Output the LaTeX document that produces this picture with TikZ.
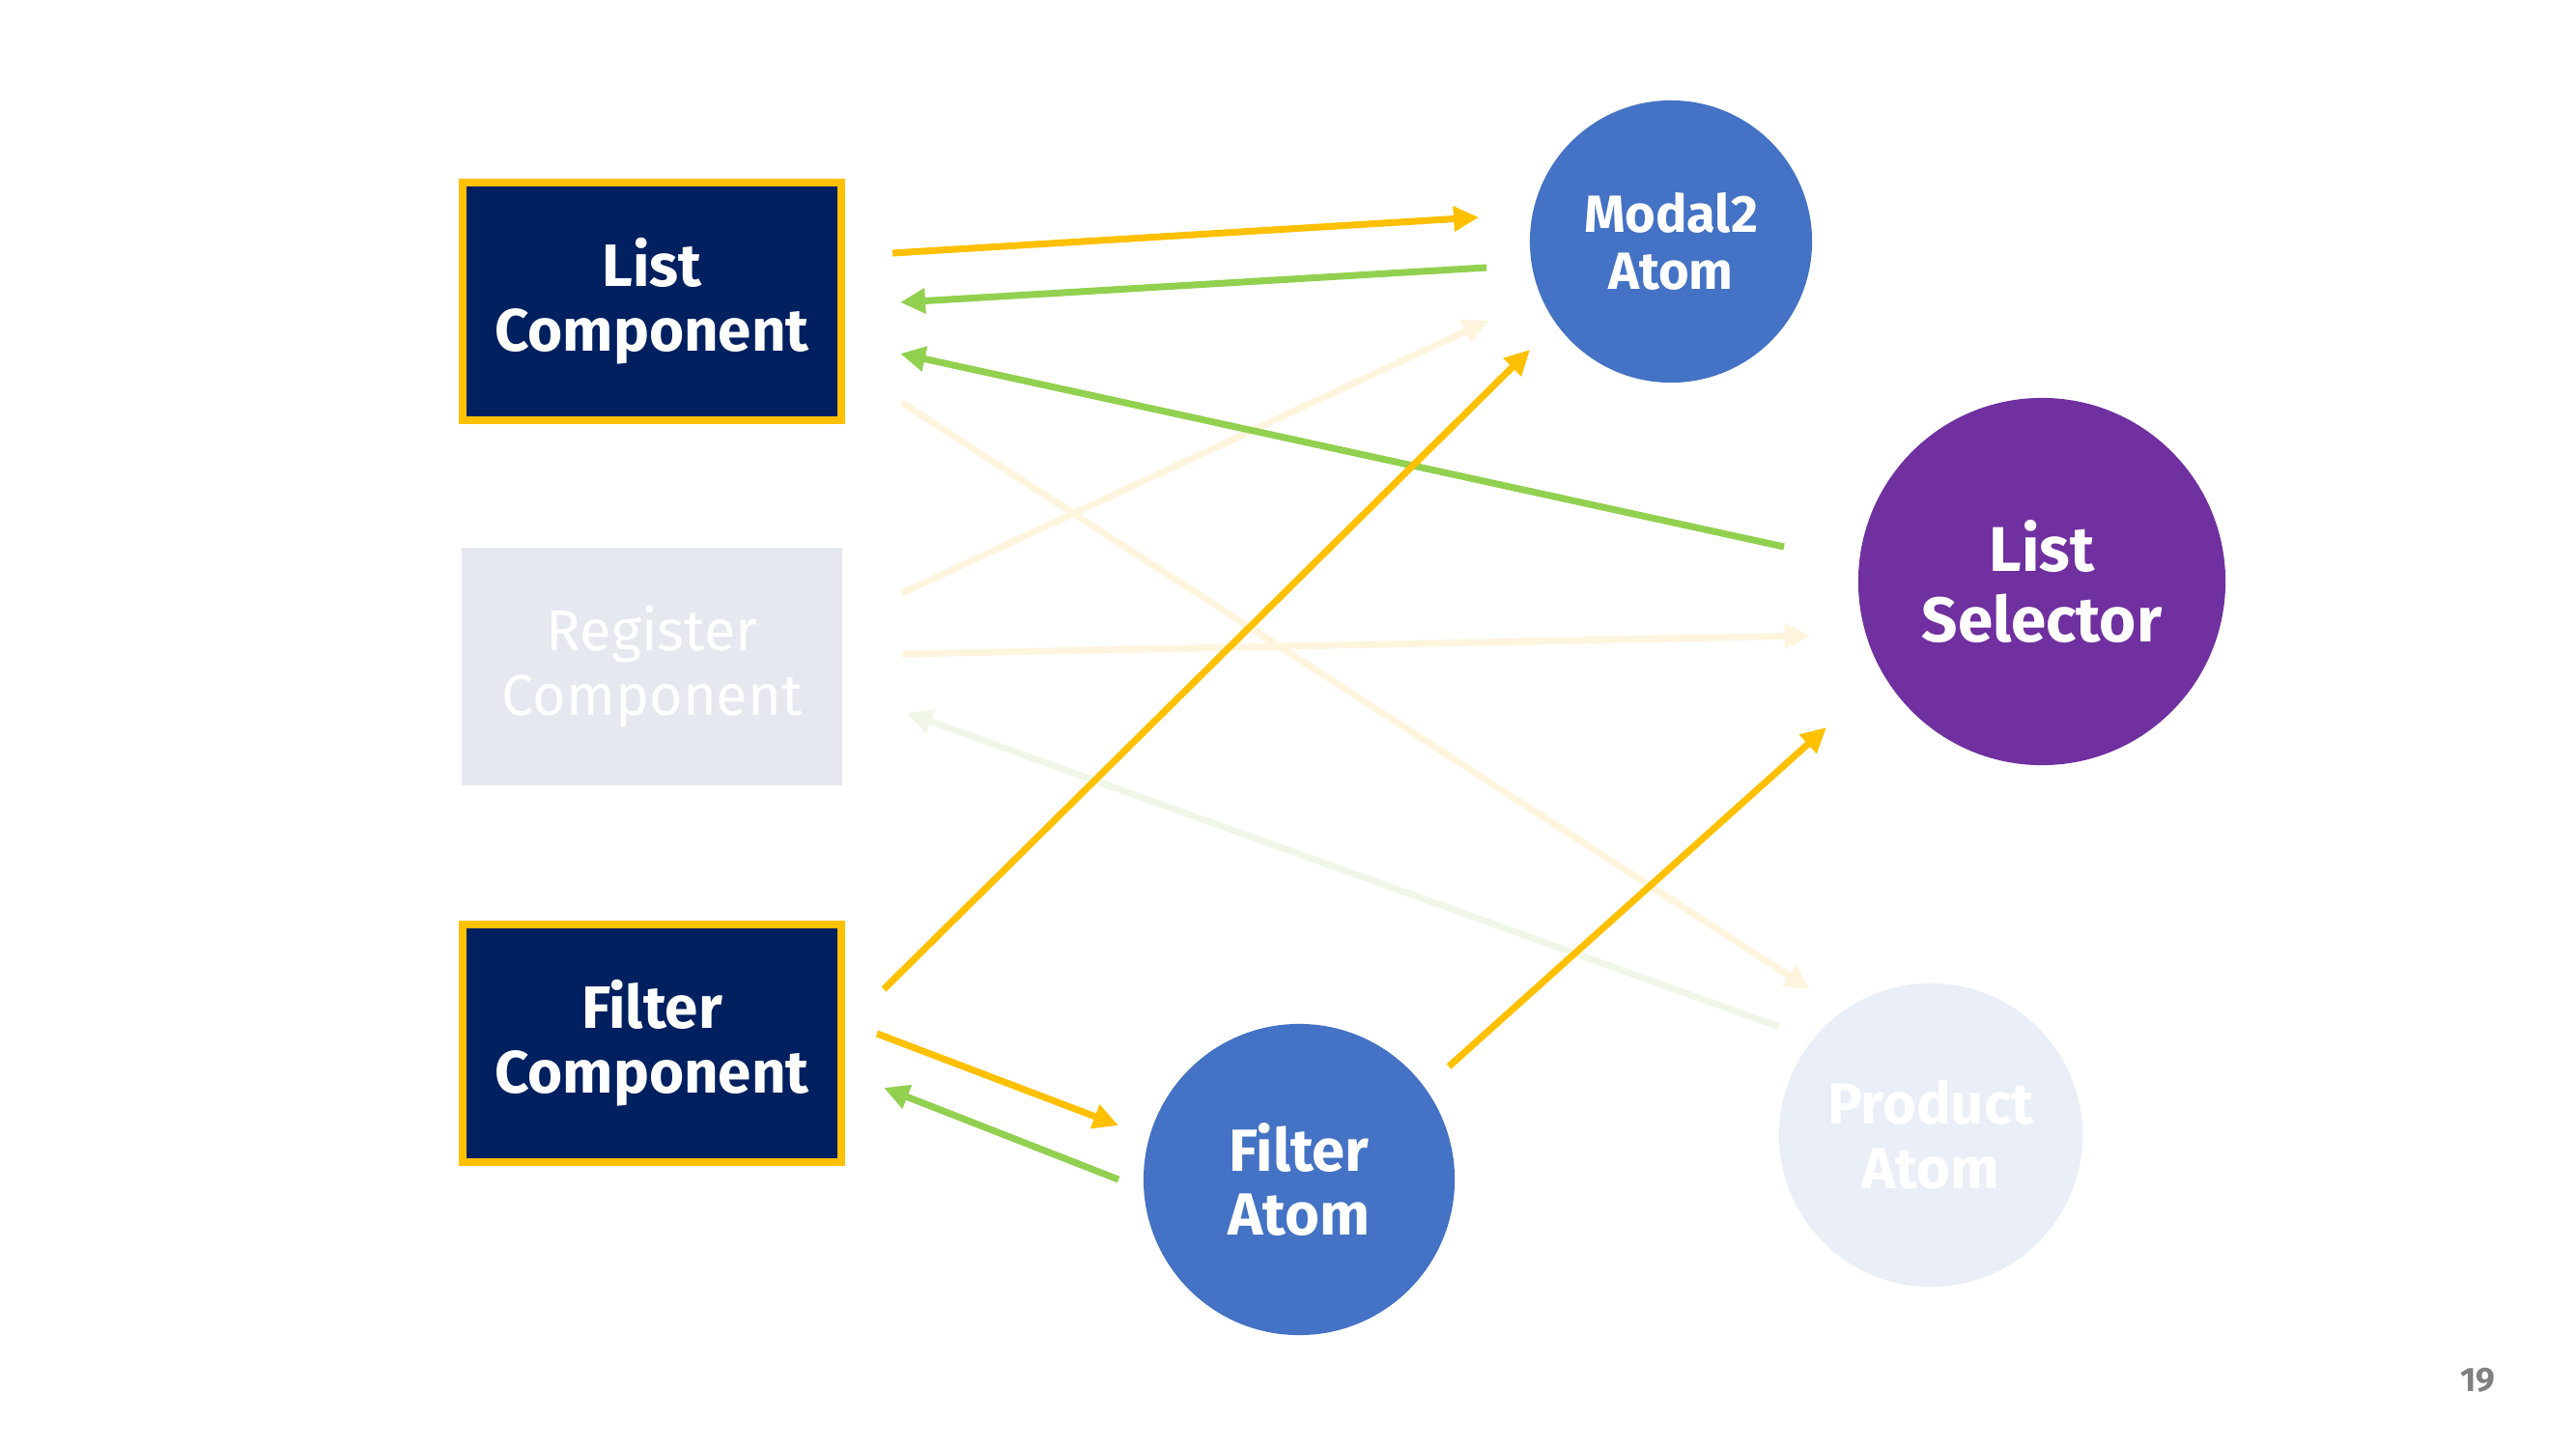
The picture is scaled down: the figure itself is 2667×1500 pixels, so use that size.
\documentclass[tikz,border=0pt]{standalone}
\usepackage{fontspec}
\setmainfont{Fira Sans}
\usetikzlibrary{arrows.meta}
\definecolor{navy}{HTML}{002060}
\definecolor{gold}{HTML}{FFC000}
\definecolor{lgreen}{HTML}{92D050}
\definecolor{atomblue}{HTML}{4472C4}
\definecolor{selpurple}{HTML}{7030A0}
\definecolor{fadegray}{HTML}{E6E8EF}
\definecolor{fadeblue}{HTML}{E9EEF7}
\definecolor{fadegold}{HTML}{FFF4DD}
\definecolor{fadegreen}{HTML}{F0F7E9}
\definecolor{pagegray}{HTML}{808080}
\begin{document}
\begin{tikzpicture}[x=0.01cm,y=-0.01cm,
  comp/.style={rectangle, fill=navy, draw=gold, line width=0.08cm,
    minimum width=3.92cm, minimum height=2.46cm, text=white, align=center,
    font=\fontsize{17.6}{19}\selectfont\bfseries},
  fadecomp/.style={rectangle, fill=fadegray, minimum width=3.94cm, minimum height=2.46cm,
    text=white, align=center, font=\fontsize{16.9}{19}\selectfont},
  atom/.style={circle, fill=atomblue, text=white, align=center, inner sep=0pt,
    font=\fontsize{17.5}{19}\selectfont\bfseries},
  arr/.style={line width=2pt, -{Triangle[length=0.26cm,width=0.25cm]}},
  yarr/.style={arr, draw=gold, fill=gold},
  garr/.style={arr, draw=lgreen, fill=lgreen},
  fyarr/.style={arr, draw=fadegold, fill=fadegold},
  fgarr/.style={arr, draw=fadegreen, fill=fadegreen}]
\useasboundingbox (0,0) rectangle (2667,1500);

% nodes
\node[comp] (lc) at (675,312) {List\\Component};
\node[fadecomp] (rc) at (675,690) {Register\\Component};
\node[comp] (fc) at (675,1080) {Filter\\Component};
\node[atom, minimum size=2.92cm, font=\fontsize{15.4}{16.8}\selectfont\bfseries] (ma) at (1730,250) {Modal2\\Atom};
\node[atom, fill=selpurple, minimum size=3.80cm, font=\fontsize{18.6}{21}\selectfont\bfseries] (ls) at (2114,602) {List\\Selector};
\node[atom, minimum size=3.22cm] (fa) at (1345,1221) {Filter\\Atom};
\node[atom, fill=fadeblue, minimum size=3.14cm, font=\fontsize{17}{19}\selectfont\bfseries] (pa) at (1999,1175) {Product\\Atom};
\node[text=pagegray, font=\fontsize{10}{12}\selectfont\bfseries] (pg) at (2565,1429) {19};

% connector end points
\coordinate (a1s) at (924,262);  \coordinate (a1e) at (1531,225);
\coordinate (a2s) at (1539,277); \coordinate (a2e) at (932,313);
\coordinate (a3s) at (1847,566); \coordinate (a3e) at (932,366);
\coordinate (a4s) at (934,614);  \coordinate (a4e) at (1541,332);
\coordinate (a5s) at (934,417);  \coordinate (a5e) at (1874,1024);
\coordinate (a6s) at (934,677);  \coordinate (a6e) at (1874,658);
\coordinate (a7s) at (1842,1063);\coordinate (a7e) at (939,738);
\coordinate (a8s) at (915,1024); \coordinate (a8e) at (1584,362);
\coordinate (a9s) at (908,1070); \coordinate (a9e) at (1158,1165);
\coordinate (a10s) at (1158,1221); \coordinate (a10e) at (915,1126);
\coordinate (a11s) at (1500,1104); \coordinate (a11e) at (1891,753);

% faded connectors
\draw[fyarr] (a4s) -- (a4e);
\draw[fyarr] (a5s) -- (a5e);
\draw[fyarr] (a6s) -- (a6e);
\draw[fgarr] (a7s) -- (a7e);

% active connectors
\draw[yarr] (a1s) -- (a1e);
\draw[garr] (a2s) -- (a2e);
\draw[garr] (a3s) -- (a3e);
\draw[yarr] (a8s) -- (a8e);
\draw[yarr] (a9s) -- (a9e);
\draw[garr] (a10s) -- (a10e);
\draw[yarr] (a11s) -- (a11e);
\end{tikzpicture}
\end{document}
